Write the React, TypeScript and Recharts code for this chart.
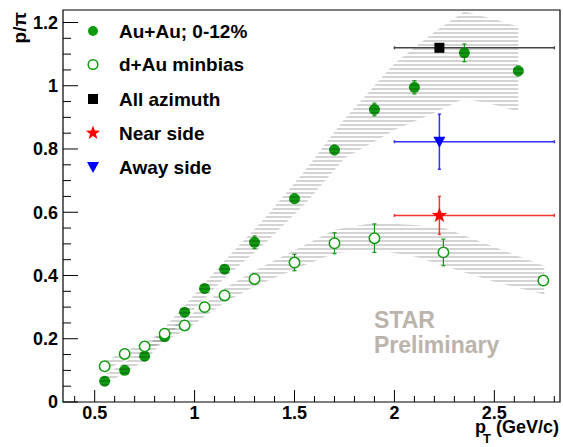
import React from "react"

import {
  ComposedChart,
  Scatter,
  Area,
  XAxis,
  YAxis,
  ErrorBar,
  ReferenceArea
} from 'recharts'

// Au+Au 0-12% (filled green)
const aaX = [0.55, 0.65, 0.75, 0.85, 0.95, 1.05, 1.15, 1.3, 1.5, 1.7, 1.9, 2.1, 2.35, 2.62]
const aaY = [0.066, 0.1, 0.145, 0.207, 0.284, 0.359, 0.42, 0.505, 0.643, 0.797, 0.925, 0.995, 1.104, 1.047]
const aaErr = [0.004, 0.004, 0.005, 0.006, 0.007, 0.008, 0.01, 0.02, 0.015, 0.015, 0.02, 0.021, 0.028, 0.015]

// d+Au minbias (open green)
const daX = [0.55, 0.65, 0.75, 0.85, 0.95, 1.05, 1.15, 1.3, 1.5, 1.7, 1.9, 2.245, 2.745]
const daY = [0.113, 0.152, 0.176, 0.216, 0.242, 0.3, 0.337, 0.389, 0.441, 0.502, 0.518, 0.473, 0.384]
const daErr = [0.005, 0.005, 0.005, 0.006, 0.008, 0.015, 0.015, 0.015, 0.026, 0.033, 0.045, 0.042, 0.01]

// systematic bands
const aaBandX = [0.55, 0.75, 0.95, 1.15, 1.35, 1.55, 1.75, 2.0, 2.2, 2.35, 2.5, 2.62]
const aaBandLow = [0.055, 0.13, 0.262, 0.392, 0.5, 0.625, 0.77, 0.86, 0.915, 0.96, 0.94, 0.918]
const aaBandHigh = [0.085, 0.165, 0.305, 0.447, 0.58, 0.73, 0.895, 1.07, 1.17, 1.235, 1.21, 1.187]

const daBandX = [0.55, 0.75, 0.95, 1.15, 1.3, 1.5, 1.7, 1.9, 2.1, 2.25, 2.5, 2.75]
const daBandLow = [0.1, 0.16, 0.225, 0.315, 0.365, 0.42, 0.47, 0.482, 0.46, 0.43, 0.38, 0.34]
const daBandHigh = [0.13, 0.19, 0.26, 0.36, 0.415, 0.48, 0.545, 0.567, 0.56, 0.55, 0.49, 0.43]

// jet-triggered points
const trigX = 2.225
const trigXErr = [0.225, 0.575]
const allAzY = 1.12
const nearY = 0.59
const nearErr = 0.06
const awayY = 0.823
const awayErr = 0.087

const xDomain = [0.3415, 2.8285]
const yDomain = [0, 1.2395]
const xTicks = [0.4, 0.5, 0.6, 0.7, 0.8, 0.9, 1, 1.1, 1.2, 1.3, 1.4, 1.5, 1.6, 1.7, 1.8, 1.9, 2, 2.1, 2.2, 2.3, 2.4, 2.5, 2.6, 2.7, 2.8]
const xLabels = [0.5, 1, 1.5, 2, 2.5]
const yTicks = [0, 0.05, 0.1, 0.15, 0.2, 0.25, 0.3, 0.35, 0.4, 0.45, 0.5, 0.55, 0.6, 0.65, 0.7, 0.75, 0.8, 0.85, 0.9, 0.95, 1, 1.05, 1.1, 1.15, 1.2]
const yLabels = [0, 0.2, 0.4, 0.6, 0.8, 1, 1.2]

const GREEN = '#109a10'
const FONT = '"Liberation Sans", Arial, Helvetica, sans-serif'

const aaData = aaX.map((x, i) => ({ x, y: aaY[i], ey: aaErr[i] }))
const daData = daX.map((x, i) => ({ x, y: daY[i], ey: daErr[i] }))
const aaBand = aaBandX.map((x, i) => ({ x, range: [aaBandLow[i], aaBandHigh[i]] }))
const daBand = daBandX.map((x, i) => ({ x, range: [daBandLow[i], daBandHigh[i]] }))
const allAzData = [{ x: trigX, y: allAzY, ex: trigXErr }]
const nearData = [{ x: trigX, y: nearY, ex: trigXErr, ey: nearErr }]
const awayData = [{ x: trigX, y: awayY, ex: trigXErr, ey: awayErr }]

const isIn = (v: number, list: number[]) => list.some((m) => Math.abs(m - v) < 1e-6)

function starPath(cx: number, cy: number, ro: number, ri: number) {
  let d = ''
  for (let k = 0; k < 10; k++) {
    const r = k % 2 === 0 ? ro : ri
    const a = -Math.PI / 2 + (k * Math.PI) / 5
    d += (k === 0 ? 'M' : 'L') + (cx + r * Math.cos(a)) + ',' + (cy + r * Math.sin(a))
  }
  return d + 'Z'
}

// filled markers sit under the hatched band in the original, so they get the stripes too
const FilledDot = ({ cx, cy }: any) => (
  <g>
    <circle cx={cx} cy={cy} r={5.5} fill={GREEN} />
    <circle cx={cx} cy={cy} r={5.5} fill="url(#hatch)" />
  </g>
)
const OpenDot = ({ cx, cy }: any) => <circle cx={cx} cy={cy} r={5.2} fill="#fff" stroke={GREEN} strokeWidth={1.5} />
const Square = ({ cx, cy }: any) => <rect x={cx - 5} y={cy - 5} width={10} height={10} fill="#000" />
const Star = ({ cx, cy }: any) => <path d={starPath(cx, cy, 8, 3.3)} fill="#ff0000" />
const TriDown = ({ cx, cy }: any) => <path d={`M${cx - 6},${cy - 5}L${cx + 6},${cy - 5}L${cx},${cy + 6}Z`} fill="#0000ff" />

const YTick = ({ x, y, payload }: any) => {
  const major = isIn(payload.value, yLabels)
  return (
    <g>
      <line x1={x} x2={x + (major ? 15 : 8)} y1={y} y2={y} stroke="#000" />
      {major && (
        <text x={x - 5} y={y} dy="0.36em" textAnchor="end" fontSize={18} fontWeight="bold" fontFamily={FONT} fill="#000">
          {String(payload.value)}
        </text>
      )}
    </g>
  )
}

const XTick = ({ x, y, payload }: any) => {
  const major = isIn(payload.value, xLabels)
  return (
    <g>
      <line x1={x} x2={x} y1={y} y2={y - (major ? 12 : 6)} stroke="#000" />
      {major && (
        <text x={x} y={y + 17} textAnchor="middle" fontSize={18} fontWeight="bold" fontFamily={FONT} fill="#000">
          {String(payload.value)}
        </text>
      )}
    </g>
  )
}

const legendRows = [
  { label: 'Au+Au; 0-12%', y: 31, mark: 'filled' },
  { label: 'd+Au minbias', y: 64.5, mark: 'open' },
  { label: 'All azimuth', y: 99, mark: 'square' },
  { label: 'Near side', y: 133, mark: 'star' },
  { label: 'Away side', y: 167, mark: 'tri' }
]

function LegendMark({ mark, cx, cy }: any) {
  if (mark === 'filled') return <circle cx={cx} cy={cy} r={5} fill={GREEN} />
  if (mark === 'open') return <circle cx={cx} cy={cy} r={4.8} fill="#fff" stroke={GREEN} strokeWidth={1.5} />
  if (mark === 'square') return <rect x={cx - 5} y={cy - 5} width={10} height={10} fill="#000" />
  if (mark === 'star') return <path d={starPath(cx, cy, 7.5, 3.1)} fill="#ff0000" />
  return <path d={`M${cx - 6},${cy - 5}L${cx + 6},${cy - 5}L${cx},${cy + 6}Z`} fill="#0000ff" />
}

export default function App() {
  return (
    <div style={{ position: 'absolute', left: 0, top: 0, width: 563, height: 447, background: '#fff' }}>
      <ComposedChart width={563} height={447} margin={{ top: 10, right: 3, bottom: 0, left: 0 }}>
        <defs>
          <pattern id="hatch" patternUnits="userSpaceOnUse" width={4} height={4}>
            <rect x={0} y={0} width={4} height={2} fill="#000" fillOpacity={0.17} />
          </pattern>
        </defs>
        <XAxis type="number" dataKey="x" domain={xDomain} ticks={xTicks} interval={0}
          allowDataOverflow height={45} tickSize={0} tickMargin={0} tickLine={false} axisLine={false}
          tick={<XTick />} />
        <YAxis type="number" dataKey="y" domain={yDomain} ticks={yTicks} interval={0}
          allowDataOverflow width={63} tickSize={0} tickMargin={0} tickLine={false} axisLine={false}
          tick={<YTick />} />

        <Area data={aaBand} dataKey="range" type="linear" stroke="none" fill="url(#hatch)" fillOpacity={1}
          dot={false} activeDot={false} isAnimationActive={false} />
        <Area data={daBand} dataKey="range" type="linear" stroke="none" fill="url(#hatch)" fillOpacity={1}
          dot={false} activeDot={false} isAnimationActive={false} />
        <Scatter data={aaData} dataKey="y" shape={<FilledDot />} isAnimationActive={false}>
          <ErrorBar dataKey="ey" direction="y" width={2} stroke={GREEN} strokeWidth={1.2} />
        </Scatter>
        <Scatter data={daData} dataKey="y" shape={<OpenDot />} isAnimationActive={false}>
          <ErrorBar dataKey="ey" direction="y" width={2} stroke={GREEN} strokeWidth={1.2} />
        </Scatter>

        <Scatter data={allAzData} dataKey="y" shape={<Square />} isAnimationActive={false}>
          <ErrorBar dataKey="ex" direction="x" width={1.5} stroke="#444" strokeWidth={1.5} />
        </Scatter>
        <Scatter data={awayData} dataKey="y" shape={<TriDown />} isAnimationActive={false}>
          <ErrorBar dataKey="ex" direction="x" width={1.5} stroke="#3030ff" strokeWidth={1.5} />
          <ErrorBar dataKey="ey" direction="y" width={1.5} stroke="#3030ff" strokeWidth={1.5} />
        </Scatter>
        <Scatter data={nearData} dataKey="y" shape={<Star />} isAnimationActive={false}>
          <ErrorBar dataKey="ex" direction="x" width={1.5} stroke="#ff3030" strokeWidth={1.5} />
          <ErrorBar dataKey="ey" direction="y" width={1.5} stroke="#ff3030" strokeWidth={1.5} />
        </Scatter>

        <ReferenceArea x1={xDomain[0]} x2={xDomain[1]} y1={yDomain[0]} y2={yDomain[1]}
          fill="none" stroke="#000" strokeWidth={1.2} ifOverflow="visible" />
      </ComposedChart>

      <svg width={563} height={447} style={{ position: 'absolute', left: 0, top: 0, pointerEvents: 'none' }}
        fontFamily={FONT} fontWeight="bold">
        {legendRows.map((r) => (
          <g key={r.label}>
            <LegendMark mark={r.mark} cx={93} cy={r.y} />
            <text x={119} y={r.y + 6.5} fontSize={19} fill="#000">{r.label}</text>
          </g>
        ))}
        <text x={374} y={328} fontSize={23} fill="#bcb4ac">STAR</text>
        <text x={374} y={353} fontSize={23} fill="#bcb4ac">Preliminary</text>
        <text transform="translate(26,12) rotate(-90)" textAnchor="end" fontSize={19} fill="#000">p/π</text>
        <text x={475} y={433} fontSize={18} fill="#000">
          p<tspan x={483} dy={10} fontSize={13}>T</tspan><tspan x={496} dy={-10}>(GeV/c)</tspan>
        </text>
      </svg>
    </div>
  )
}
